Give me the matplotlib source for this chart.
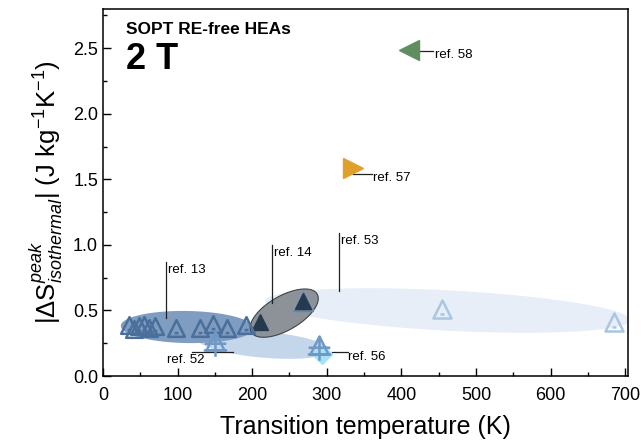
import numpy as np
import matplotlib
matplotlib.use("Agg")
from matplotlib import pyplot as plt
from matplotlib.path import Path

plt.rcParams['font.family'] = ['Liberation Sans', 'DejaVu Sans']
plt.rcParams['mathtext.fontset'] = 'custom'
plt.rcParams['mathtext.rm'] = 'Liberation Sans'
plt.rcParams['mathtext.it'] = 'Liberation Sans:italic'

# ref. 13 (open triangles)
t13 = [35, 42, 48, 55, 62, 70, 98, 130, 148, 167, 192]
s13 = [0.39, 0.36, 0.38, 0.39, 0.37, 0.38, 0.37, 0.37, 0.40, 0.37, 0.39]
# ref. 14 (filled triangles)
t14 = [210, 268]
s14 = [0.41, 0.57]
# ref. 53 (light open triangles)
t53 = [268, 455, 685]
s53 = [0.57, 0.51, 0.41]
# ref. 52 / 56 (crossed triangles), ref. 56 diamond
t52 = [150]
s52 = [0.27]
t56 = [290]
s56 = [0.24]
t56d = [294]
s56d = [0.17]
# ref. 57, 58
t57 = [335]
s57 = [1.59]
t58 = [410]
s58 = [2.49]

# group ellipses: centre T, centre dS, semi-major (K), semi-minor (K, visual), angle
groups = [
    (462, 0.50, 245, 27, -3, '#e7eef7', 'none'),
    (215, 0.24, 89, 17.5, -5, '#c4d6ea', 'none'),
    (113, 0.374, 89, 21.5, -1, '#7f9cc1', 'none'),
    (243, 0.48, 51, 23, 30, '#8d9299', '#3e4349'),
]

# annotation leaders: label, x0, x1, y0, y1, text x, text y
refs = [
    ('ref. 13', 84, 84, 0.87, 0.44, 87, 0.81),
    ('ref. 14', 226, 226, 1.00, 0.56, 229, 0.94),
    ('ref. 53', 316, 316, 1.09, 0.65, 319, 1.03),
    ('ref. 52', 119, 175, 0.18, 0.18, 86, 0.12),
    ('ref. 56', 307, 328, 0.18, 0.18, 329, 0.145),
    ('ref. 57', 335, 361, 1.54, 1.54, 362, 1.51),
    ('ref. 58', 419, 443, 2.48, 2.48, 445, 2.45),
]

tri_dot = Path([(0, 1), (-1, -1), (1, -1), (0, 1), (-0.22, -0.55), (0.22, -0.55)],
               [Path.MOVETO, Path.LINETO, Path.LINETO, Path.CLOSEPOLY, Path.MOVETO, Path.LINETO])
tri_cross = Path([(0, 1), (-1, -1), (1, -1), (0, 1), (0, 1), (0, -1.7), (-1.2, -0.25), (1.2, -0.25), (-1.3, -1), (1.3, -1)],
                 [Path.MOVETO, Path.LINETO, Path.LINETO, Path.CLOSEPOLY, Path.MOVETO, Path.LINETO,
                  Path.MOVETO, Path.LINETO, Path.MOVETO, Path.LINETO])

fig = plt.figure(figsize=(6.43, 4.44), dpi=100)
ax = fig.add_subplot(111)
fig.subplots_adjust(left=0.160, right=0.977, top=0.980, bottom=0.153)
xmin, xmax, ymin, ymax = 0, 704, 0, 2.80
ax.set_xlim(xmin, xmax)
ax.set_ylim(ymin, ymax)

pos = ax.get_position()
ys = (pos.height * 444 / (ymax - ymin)) / (pos.width * 643 / (xmax - xmin))
tt = np.linspace(0, 2 * np.pi, 200)
for cx, cy, a, b, ang, fc, ec in groups:
    th = np.radians(ang)
    u, v = a * np.cos(tt), b * np.sin(tt)
    ex = cx + u * np.cos(th) - v * np.sin(th)
    ey = cy + (u * np.sin(th) + v * np.cos(th)) / ys
    ax.fill(ex, ey, facecolor=fc, edgecolor=ec, lw=0.8, zorder=2)

for lab, x0, x1, y0, y1, tx, ty in refs:
    ax.plot([x0, x1], [y0, y1], color='#222222', lw=0.9, zorder=3)
    ax.text(tx, ty, lab, fontsize=9.5, va='center', ha='left', zorder=6)

ax.plot(t53, s53, ls='none', marker=tri_dot, ms=13, mfc='none', mec='#a9c6e3', mew=1.8, zorder=4)
ax.plot(t14[1:], s14[1:], ls='none', marker='^', ms=15, mfc='#6584a6', mec='#6584a6', zorder=4)
ax.plot(t14, s14, ls='none', marker='^', ms=11, mfc='#263a4f', mec='#263a4f', zorder=5)
ax.plot(t13, s13, ls='none', marker=tri_dot, ms=12, mfc='none', mec='#4a6f9a', mew=1.8, zorder=5)
ax.plot(t56d, s56d, ls='none', marker='D', ms=10, mfc='#a6e2f7', mec='#a6e2f7', zorder=4)
ax.plot(t52 + t56, s52 + s56, ls='none', marker=tri_cross, ms=22, mfc='none', mec='#6f98c6', mew=1.8, zorder=5)
ax.plot(t57, s57, ls='none', marker='>', ms=14, color='#e0a12b', zorder=5)
ax.plot(t58, s58, ls='none', marker='<', ms=14, color='#5f8f60', zorder=5)

ax.text(0.044, 0.943, 'SOPT RE-free HEAs', transform=ax.transAxes, fontsize=12.5,
        fontweight='bold', va='center')
ax.text(0.044, 0.861, '2 T', transform=ax.transAxes, fontsize=26, fontweight='bold', va='center')

ax.set_xticks(np.arange(0, 701, 100))
ax.set_xticks(np.arange(50, 701, 100), minor=True)
ax.set_yticks(np.arange(0, 2.6, 0.5))
ax.set_yticks(np.arange(0.25, 2.8, 0.5), minor=True)
ax.set_yticklabels(['0.0', '0.5', '1.0', '1.5', '2.0', '2.5'])
ax.tick_params(which='both', direction='in', labelsize=13, width=1)
ax.tick_params(which='major', length=6)
ax.tick_params(which='minor', length=3)
ax.tick_params(axis='x', which='major', pad=8)
for sp in ax.spines.values():
    sp.set_linewidth(1.1)

ax.set_xlabel('Transition temperature (K)', fontsize=18, labelpad=8)
ax.set_ylabel(r'$|\Delta\mathrm{S}^{\mathit{peak}}_{\mathit{isothermal}}|$ (J kg$^{-1}$K$^{-1}$)',
              fontsize=18.5, labelpad=6)

fig.savefig('out.png', dpi=100)
